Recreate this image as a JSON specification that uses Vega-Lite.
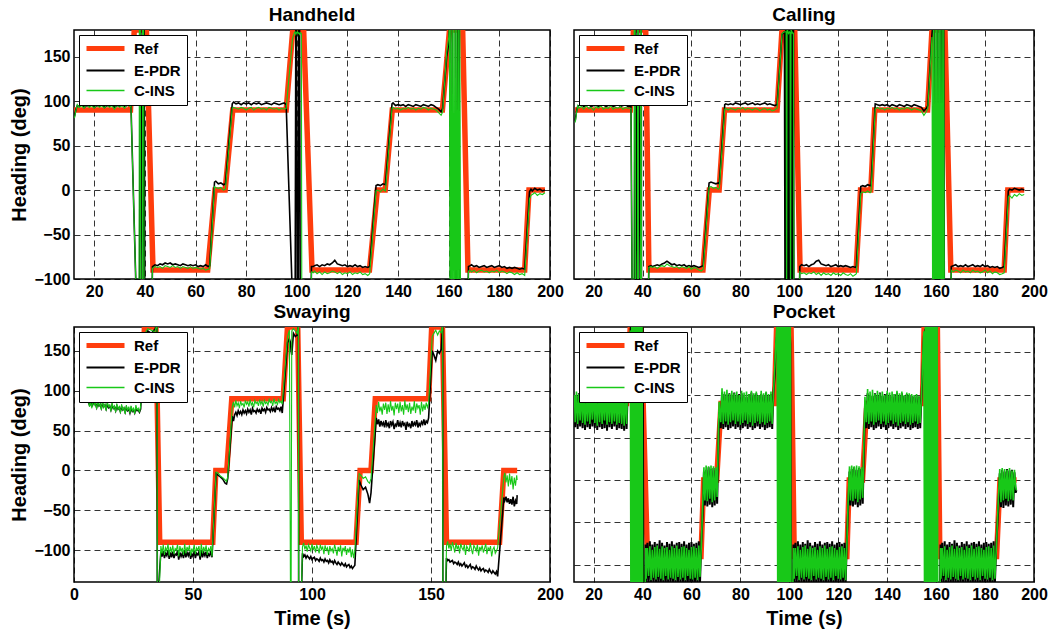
{
"$schema": "https://vega.github.io/schema/vega-lite/v6.json",
"background": "white",
"padding": {"left": 9, "top": 5, "right": 5, "bottom": 5},
"datasets": {
"hR": [{"t":12,"v":90},{"t":34.3,"v":90},{"t":35.8,"v":180},{"t":40.6,"v":180},{"t":43.2,"v":-90},{"t":64.8,"v":-90},{"t":67.7,"v":0},{"t":71.7,"v":0},{"t":74.7,"v":90},{"t":95.8,"v":90},{"t":98.4,"v":180},{"t":102.7,"v":180},{"t":106,"v":-90},{"t":128.7,"v":-90},{"t":131.8,"v":0},{"t":134.9,"v":0},{"t":137.7,"v":90},{"t":157.5,"v":90},{"t":160.3,"v":180},{"t":165.5,"v":180},{"t":167.6,"v":-90},{"t":190,"v":-90},{"t":191.7,"v":0},{"t":198,"v":0}],
"hD": [{"t":12.2,"e":83,"c":81},{"t":12.7,"e":90,"c":89},{"t":13.3,"e":95,"c":96},{"t":14,"e":94,"c":93},{"t":15,"e":96,"c":95},{"t":16,"e":93,"c":92},{"t":17,"e":95,"c":97},{"t":18,"e":94,"c":93},{"t":19,"e":96,"c":95},{"t":20,"e":93,"c":92},{"t":21,"e":95,"c":96},{"t":22,"e":94,"c":93},{"t":23,"e":96,"c":95},{"t":24,"e":93,"c":92},{"t":25,"e":95,"c":96},{"t":26,"e":94,"c":93},{"t":27,"e":96,"c":95},{"t":28,"e":93,"c":91},{"t":29,"e":95,"c":96},{"t":30,"e":94,"c":93},{"t":31,"e":96,"c":95},{"t":32,"e":94,"c":92},{"t":33,"e":95,"c":97},{"t":34,"e":96,"c":94},{"t":34.5,"e":95,"c":94},{"t":37.2,"e":-185,"c":-185},{"t":37.7,"e":-185,"c":-185},{"t":37.8,"e":-185,"c":185},{"t":38.2,"e":185,"c":185},{"t":38.4,"e":185,"c":-185},{"t":39.0,"e":-185,"c":-185},{"t":39.1,"e":-185,"c":185},{"t":39.5,"e":185,"c":185},{"t":39.7,"e":185,"c":-185},{"t":40.0,"e":-185,"c":-185},{"t":42.4,"e":-185,"c":-185},{"t":43.0,"e":-86,"c":-88},{"t":44,"e":-84,"c":-86},{"t":45,"e":-85,"c":-87},{"t":46,"e":-83,"c":-86},{"t":47,"e":-84,"c":-88},{"t":48,"e":-82,"c":-85},{"t":49,"e":-83,"c":-86},{"t":50,"e":-82,"c":-87},{"t":51,"e":-84,"c":-85},{"t":52,"e":-83,"c":-87},{"t":53,"e":-84,"c":-86},{"t":54,"e":-85,"c":-88},{"t":55,"e":-83,"c":-86},{"t":56,"e":-84,"c":-87},{"t":57,"e":-85,"c":-88},{"t":58,"e":-84,"c":-86},{"t":59,"e":-85,"c":-88},{"t":60,"e":-84,"c":-87},{"t":61,"e":-86,"c":-88},{"t":62,"e":-85,"c":-89},{"t":63,"e":-86,"c":-88},{"t":64,"e":-84,"c":-90},{"t":65,"e":-86,"c":-89},{"t":65.6,"e":-85,"c":-88},{"t":67.5,"e":9,"c":4},{"t":68,"e":10,"c":3},{"t":69,"e":7,"c":2},{"t":70,"e":8,"c":3},{"t":71,"e":6,"c":0},{"t":71.8,"e":7,"c":1},{"t":74.5,"e":97,"c":92},{"t":75,"e":99,"c":93},{"t":76,"e":97,"c":92},{"t":77,"e":98,"c":91},{"t":78,"e":96,"c":93},{"t":79,"e":98,"c":92},{"t":80,"e":97,"c":90},{"t":81,"e":98,"c":92},{"t":82,"e":96,"c":93},{"t":83,"e":98,"c":90},{"t":84,"e":97,"c":92},{"t":85,"e":98,"c":93},{"t":86,"e":96,"c":91},{"t":87,"e":97,"c":92},{"t":88,"e":98,"c":90},{"t":89,"e":97,"c":93},{"t":90,"e":96,"c":92},{"t":91,"e":98,"c":91},{"t":92,"e":97,"c":92},{"t":93,"e":96,"c":90},{"t":94,"e":97,"c":92},{"t":95,"e":98,"c":91},{"t":95.8,"e":96,"c":92},{"t":98.3,"e":-124,"c":170},{"t":99.0,"e":-185,"c":177},{"t":99.3,"e":-185,"c":178},{"t":99.6,"e":185,"c":175},{"t":99.9,"e":185,"c":177},{"t":100.2,"e":-185,"c":178},{"t":100.5,"e":-185,"c":176},{"t":100.8,"e":185,"c":177},{"t":101.1,"e":185,"c":175},{"t":101.4,"e":-185,"c":177},{"t":101.8,"e":-185,"c":176},{"t":102.0,"e":-185,"c":-185},{"t":105.2,"e":-185,"c":-185},{"t":105.8,"e":-86,"c":-92},{"t":106.5,"e":-86,"c":-93},{"t":107,"e":-85,"c":-91},{"t":108,"e":-84,"c":-94},{"t":109,"e":-86,"c":-92},{"t":110,"e":-84,"c":-95},{"t":111,"e":-85,"c":-92},{"t":112,"e":-83,"c":-94},{"t":113,"e":-84,"c":-93},{"t":114,"e":-82,"c":-91},{"t":115,"e":-79,"c":-92},{"t":116,"e":-83,"c":-94},{"t":117,"e":-84,"c":-92},{"t":118,"e":-85,"c":-95},{"t":119,"e":-84,"c":-93},{"t":120,"e":-86,"c":-94},{"t":121,"e":-85,"c":-92},{"t":122,"e":-86,"c":-95},{"t":123,"e":-84,"c":-93},{"t":124,"e":-86,"c":-94},{"t":125,"e":-85,"c":-92},{"t":126,"e":-87,"c":-95},{"t":127,"e":-86,"c":-94},{"t":128,"e":-87,"c":-96},{"t":128.8,"e":-86,"c":-94},{"t":131.3,"e":5,"c":-1},{"t":132,"e":6,"c":0},{"t":133,"e":5,"c":-2},{"t":134,"e":7,"c":1},{"t":135,"e":6,"c":-1},{"t":137.6,"e":97,"c":92},{"t":138,"e":98,"c":93},{"t":139,"e":95,"c":91},{"t":140,"e":96,"c":92},{"t":141,"e":95,"c":90},{"t":142,"e":96,"c":92},{"t":143,"e":94,"c":91},{"t":144,"e":96,"c":93},{"t":145,"e":95,"c":91},{"t":146,"e":94,"c":92},{"t":147,"e":96,"c":90},{"t":148,"e":95,"c":92},{"t":149,"e":94,"c":91},{"t":150,"e":96,"c":93},{"t":151,"e":95,"c":92},{"t":152,"e":94,"c":90},{"t":153,"e":96,"c":92},{"t":154,"e":95,"c":91},{"t":155,"e":93,"c":90},{"t":156,"e":91,"c":87},{"t":157,"e":88,"c":84},{"t":157.6,"e":92,"c":88},{"t":159.2,"e":150,"c":155},{"t":160,"e":165,"c":172},{"t":160.3,"e":185,"c":185},{"t":160.5,"e":185,"c":-185},{"t":160.8,"e":-185,"c":185},{"t":161.1,"e":-185,"c":-185},{"t":161.4,"e":185,"c":185},{"t":161.7,"e":185,"c":-185},{"t":162.0,"e":185,"c":185},{"t":162.3,"e":185,"c":-185},{"t":162.6,"e":185,"c":185},{"t":162.9,"e":-185,"c":-185},{"t":163.2,"e":-185,"c":185},{"t":163.5,"e":185,"c":-185},{"t":163.8,"e":185,"c":185},{"t":164.1,"e":185,"c":-185},{"t":164.4,"e":-185,"c":185},{"t":164.7,"e":-185,"c":-185},{"t":167.2,"e":-185,"c":-185},{"t":167.8,"e":-86,"c":-91},{"t":168.5,"e":-85,"c":-90},{"t":169,"e":-84,"c":-92},{"t":170,"e":-86,"c":-90},{"t":171,"e":-85,"c":-93},{"t":172,"e":-87,"c":-91},{"t":173,"e":-86,"c":-90},{"t":174,"e":-85,"c":-92},{"t":175,"e":-87,"c":-91},{"t":176,"e":-86,"c":-93},{"t":177,"e":-85,"c":-91},{"t":178,"e":-87,"c":-92},{"t":179,"e":-86,"c":-90},{"t":180,"e":-85,"c":-93},{"t":181,"e":-87,"c":-91},{"t":182,"e":-86,"c":-92},{"t":183,"e":-88,"c":-94},{"t":184,"e":-87,"c":-92},{"t":185,"e":-88,"c":-93},{"t":186,"e":-87,"c":-95},{"t":187,"e":-88,"c":-93},{"t":188,"e":-89,"c":-95},{"t":189,"e":-88,"c":-94},{"t":190,"e":-89,"c":-96},{"t":191.9,"e":-2,"c":-10},{"t":192.5,"e":1,"c":-6},{"t":193,"e":-1,"c":-5},{"t":194,"e":2,"c":-3},{"t":195,"e":0,"c":-6},{"t":196,"e":1,"c":-4},{"t":197,"e":-1,"c":-5},{"t":198,"e":0,"c":-3}],
"cR": [{"t":12.4,"v":90},{"t":35,"v":90},{"t":36.3,"v":180},{"t":41.3,"v":180},{"t":42.6,"v":-90},{"t":64.7,"v":-90},{"t":67.3,"v":0},{"t":71.3,"v":0},{"t":73.5,"v":90},{"t":95,"v":90},{"t":97,"v":180},{"t":102.2,"v":180},{"t":104.4,"v":-90},{"t":127.3,"v":-90},{"t":129.1,"v":0},{"t":133.3,"v":0},{"t":134.9,"v":90},{"t":156.5,"v":90},{"t":158.3,"v":180},{"t":163.6,"v":180},{"t":166,"v":-90},{"t":187.8,"v":-90},{"t":189.3,"v":0},{"t":196,"v":0}],
"cD": [{"t":12.5,"e":78,"c":76},{"t":13,"e":88,"c":86},{"t":13.5,"e":94,"c":95},{"t":14,"e":95,"c":92},{"t":15,"e":96,"c":94},{"t":16,"e":94,"c":91},{"t":17,"e":95,"c":95},{"t":18,"e":96,"c":92},{"t":19,"e":94,"c":93},{"t":20,"e":95,"c":90},{"t":21,"e":96,"c":94},{"t":22,"e":94,"c":92},{"t":23,"e":95,"c":95},{"t":24,"e":96,"c":91},{"t":25,"e":94,"c":93},{"t":26,"e":95,"c":92},{"t":27,"e":96,"c":95},{"t":28,"e":94,"c":91},{"t":29,"e":95,"c":93},{"t":30,"e":96,"c":92},{"t":31,"e":94,"c":94},{"t":32,"e":95,"c":91},{"t":33,"e":96,"c":93},{"t":34,"e":94,"c":92},{"t":35.3,"e":94,"c":92},{"t":35.9,"e":-185,"c":-185},{"t":36.5,"e":-185,"c":-185},{"t":36.6,"e":-185,"c":185},{"t":37.0,"e":185,"c":185},{"t":37.2,"e":185,"c":-185},{"t":37.9,"e":-185,"c":-185},{"t":38.0,"e":185,"c":185},{"t":38.3,"e":185,"c":185},{"t":38.4,"e":185,"c":-185},{"t":39.2,"e":-185,"c":-185},{"t":39.3,"e":-185,"c":185},{"t":39.5,"e":185,"c":185},{"t":39.6,"e":-185,"c":-185},{"t":41.9,"e":-185,"c":-185},{"t":42.6,"e":-86,"c":-87},{"t":43.5,"e":-85,"c":-86},{"t":44,"e":-86,"c":-87},{"t":45,"e":-85,"c":-86},{"t":46,"e":-84,"c":-88},{"t":47,"e":-85,"c":-86},{"t":48,"e":-83,"c":-85},{"t":49,"e":-82,"c":-86},{"t":50,"e":-80,"c":-83},{"t":51,"e":-82,"c":-85},{"t":52,"e":-84,"c":-86},{"t":53,"e":-83,"c":-87},{"t":54,"e":-85,"c":-86},{"t":55,"e":-84,"c":-88},{"t":56,"e":-85,"c":-86},{"t":57,"e":-84,"c":-87},{"t":58,"e":-86,"c":-88},{"t":59,"e":-85,"c":-86},{"t":60,"e":-86,"c":-89},{"t":61,"e":-85,"c":-87},{"t":62,"e":-86,"c":-88},{"t":63,"e":-87,"c":-90},{"t":64,"e":-86,"c":-91},{"t":64.8,"e":-85,"c":-89},{"t":67.2,"e":8,"c":3},{"t":68,"e":9,"c":4},{"t":69,"e":8,"c":2},{"t":70,"e":7,"c":3},{"t":71,"e":8,"c":1},{"t":71.4,"e":7,"c":2},{"t":73.6,"e":96,"c":91},{"t":74,"e":97,"c":92},{"t":75,"e":96,"c":90},{"t":76,"e":97,"c":92},{"t":77,"e":96,"c":91},{"t":78,"e":98,"c":90},{"t":79,"e":97,"c":92},{"t":80,"e":96,"c":91},{"t":81,"e":97,"c":93},{"t":82,"e":98,"c":90},{"t":83,"e":96,"c":92},{"t":84,"e":97,"c":91},{"t":85,"e":98,"c":90},{"t":86,"e":96,"c":92},{"t":87,"e":97,"c":91},{"t":88,"e":96,"c":89},{"t":89,"e":97,"c":91},{"t":90,"e":98,"c":92},{"t":91,"e":96,"c":90},{"t":92,"e":97,"c":91},{"t":93,"e":96,"c":89},{"t":94,"e":95,"c":90},{"t":95,"e":96,"c":92},{"t":97.0,"e":175,"c":176},{"t":98.0,"e":178,"c":178},{"t":98.3,"e":-185,"c":178},{"t":98.5,"e":185,"c":178},{"t":98.7,"e":-185,"c":178},{"t":98.9,"e":185,"c":-185},{"t":99.1,"e":-185,"c":185},{"t":99.3,"e":185,"c":177},{"t":99.5,"e":-185,"c":178},{"t":99.7,"e":185,"c":176},{"t":99.9,"e":-185,"c":177},{"t":100.1,"e":185,"c":178},{"t":100.3,"e":-185,"c":177},{"t":100.5,"e":185,"c":-185},{"t":100.7,"e":-185,"c":185},{"t":100.9,"e":185,"c":176},{"t":101.1,"e":-185,"c":178},{"t":101.3,"e":185,"c":177},{"t":101.5,"e":-185,"c":176},{"t":101.7,"e":185,"c":177},{"t":101.9,"e":-185,"c":-185},{"t":103.7,"e":-185,"c":-185},{"t":104.3,"e":-86,"c":-92},{"t":105,"e":-84,"c":-94},{"t":106,"e":-85,"c":-93},{"t":107,"e":-84,"c":-95},{"t":108,"e":-86,"c":-93},{"t":109,"e":-84,"c":-94},{"t":110,"e":-83,"c":-92},{"t":111,"e":-80,"c":-95},{"t":112,"e":-79,"c":-93},{"t":113,"e":-83,"c":-96},{"t":114,"e":-84,"c":-93},{"t":115,"e":-85,"c":-95},{"t":116,"e":-84,"c":-94},{"t":117,"e":-86,"c":-96},{"t":118,"e":-85,"c":-93},{"t":119,"e":-84,"c":-95},{"t":120,"e":-86,"c":-94},{"t":121,"e":-85,"c":-96},{"t":122,"e":-86,"c":-93},{"t":123,"e":-85,"c":-95},{"t":124,"e":-86,"c":-96},{"t":125,"e":-87,"c":-94},{"t":126,"e":-86,"c":-97},{"t":127,"e":-87,"c":-95},{"t":127.4,"e":-86,"c":-94},{"t":129.2,"e":4,"c":-4},{"t":130,"e":5,"c":-2},{"t":131,"e":4,"c":-3},{"t":132,"e":6,"c":-1},{"t":133,"e":5,"c":-3},{"t":133.4,"e":5,"c":-2},{"t":135.1,"e":97,"c":91},{"t":136,"e":96,"c":93},{"t":137,"e":95,"c":91},{"t":138,"e":96,"c":92},{"t":139,"e":95,"c":90},{"t":140,"e":96,"c":92},{"t":141,"e":94,"c":91},{"t":142,"e":96,"c":93},{"t":143,"e":95,"c":91},{"t":144,"e":94,"c":92},{"t":145,"e":96,"c":90},{"t":146,"e":95,"c":92},{"t":147,"e":94,"c":91},{"t":148,"e":96,"c":93},{"t":149,"e":95,"c":92},{"t":150,"e":94,"c":90},{"t":151,"e":96,"c":92},{"t":152,"e":95,"c":91},{"t":153,"e":94,"c":90},{"t":154,"e":93,"c":89},{"t":155,"e":89,"c":84},{"t":156,"e":92,"c":88},{"t":156.6,"e":95,"c":92},{"t":158.3,"e":175,"c":172},{"t":158.6,"e":185,"c":-185},{"t":158.9,"e":185,"c":185},{"t":159.2,"e":185,"c":-185},{"t":159.5,"e":-185,"c":185},{"t":159.8,"e":-185,"c":-185},{"t":160.1,"e":185,"c":185},{"t":160.4,"e":185,"c":-185},{"t":160.7,"e":185,"c":185},{"t":161.0,"e":-185,"c":-185},{"t":161.3,"e":-185,"c":185},{"t":161.6,"e":185,"c":-185},{"t":161.9,"e":185,"c":185},{"t":162.2,"e":-185,"c":-185},{"t":162.5,"e":185,"c":185},{"t":162.8,"e":-185,"c":-185},{"t":163.1,"e":185,"c":185},{"t":163.4,"e":-185,"c":-185},{"t":165.6,"e":-185,"c":-185},{"t":166.2,"e":-86,"c":-90},{"t":167,"e":-85,"c":-92},{"t":168,"e":-84,"c":-90},{"t":169,"e":-86,"c":-91},{"t":170,"e":-85,"c":-93},{"t":171,"e":-86,"c":-90},{"t":172,"e":-84,"c":-92},{"t":173,"e":-86,"c":-91},{"t":174,"e":-85,"c":-93},{"t":175,"e":-84,"c":-90},{"t":176,"e":-86,"c":-92},{"t":177,"e":-85,"c":-91},{"t":178,"e":-86,"c":-93},{"t":179,"e":-84,"c":-92},{"t":180,"e":-86,"c":-90},{"t":181,"e":-85,"c":-93},{"t":182,"e":-87,"c":-91},{"t":183,"e":-86,"c":-94},{"t":184,"e":-87,"c":-92},{"t":185,"e":-86,"c":-93},{"t":186,"e":-88,"c":-95},{"t":187,"e":-87,"c":-94},{"t":187.8,"e":-86,"c":-93},{"t":189.5,"e":-1,"c":-8},{"t":190,"e":1,"c":-6},{"t":191,"e":0,"c":-9},{"t":192,"e":2,"c":-5},{"t":193,"e":1,"c":-7},{"t":194,"e":0,"c":-4},{"t":195,"e":1,"c":-6},{"t":196,"e":0,"c":-5}],
"sR": [{"t":5.8,"v":90},{"t":28.5,"v":90},{"t":29.6,"v":180},{"t":34.4,"v":180},{"t":36,"v":-90},{"t":58.3,"v":-90},{"t":59.6,"v":0},{"t":64.2,"v":0},{"t":66.3,"v":90},{"t":87.9,"v":90},{"t":89.7,"v":180},{"t":94,"v":180},{"t":95.5,"v":-90},{"t":118.5,"v":-90},{"t":120.2,"v":0},{"t":124.8,"v":0},{"t":126.6,"v":90},{"t":149,"v":90},{"t":150.3,"v":180},{"t":154.8,"v":180},{"t":156.5,"v":-90},{"t":178.8,"v":-90},{"t":180.6,"v":0},{"t":186.2,"v":0}],
"sD": [{"t":6,"e":86,"c":88},{"t":6.5,"e":82,"c":80},{"t":7,"e":85,"c":86},{"t":7.5,"e":80,"c":78},{"t":8,"e":87,"c":90},{"t":8.5,"e":83,"c":82},{"t":9,"e":84,"c":85},{"t":9.5,"e":79,"c":77},{"t":10,"e":85,"c":87},{"t":10.5,"e":81,"c":81},{"t":11,"e":83,"c":84},{"t":11.5,"e":78,"c":76},{"t":12,"e":84,"c":88},{"t":12.5,"e":80,"c":79},{"t":13,"e":82,"c":83},{"t":13.5,"e":77,"c":75},{"t":14,"e":83,"c":86},{"t":14.5,"e":79,"c":80},{"t":15,"e":81,"c":82},{"t":15.5,"e":76,"c":74},{"t":16,"e":82,"c":85},{"t":16.5,"e":78,"c":78},{"t":17,"e":80,"c":81},{"t":17.5,"e":75,"c":73},{"t":18,"e":81,"c":84},{"t":18.5,"e":77,"c":77},{"t":19,"e":79,"c":80},{"t":19.5,"e":74,"c":72},{"t":20,"e":80,"c":83},{"t":20.5,"e":76,"c":76},{"t":21,"e":78,"c":79},{"t":21.5,"e":73,"c":71},{"t":22,"e":79,"c":82},{"t":22.5,"e":75,"c":75},{"t":23,"e":77,"c":80},{"t":23.5,"e":72,"c":72},{"t":24,"e":78,"c":81},{"t":24.5,"e":74,"c":74},{"t":25,"e":76,"c":79},{"t":25.5,"e":72,"c":71},{"t":26,"e":77,"c":82},{"t":26.5,"e":75,"c":76},{"t":27,"e":76,"c":78},{"t":27.5,"e":73,"c":73},{"t":28,"e":77,"c":80},{"t":29.6,"e":168,"c":171},{"t":31,"e":175,"c":178},{"t":32.5,"e":172,"c":176},{"t":34,"e":177,"c":174},{"t":34.9,"e":185,"c":185},{"t":35.0,"e":-185,"c":-185},{"t":35.9,"e":-130,"c":-145},{"t":36.5,"e":-102,"c":-95},{"t":37,"e":-108,"c":-104},{"t":37.5,"e":-101,"c":-93},{"t":38,"e":-110,"c":-106},{"t":38.5,"e":-104,"c":-97},{"t":39,"e":-107,"c":-101},{"t":39.5,"e":-100,"c":-92},{"t":40,"e":-111,"c":-107},{"t":40.5,"e":-103,"c":-96},{"t":41,"e":-109,"c":-103},{"t":41.5,"e":-102,"c":-94},{"t":42,"e":-110,"c":-105},{"t":42.5,"e":-105,"c":-98},{"t":43,"e":-106,"c":-100},{"t":43.5,"e":-101,"c":-93},{"t":44,"e":-112,"c":-108},{"t":44.5,"e":-103,"c":-95},{"t":45,"e":-108,"c":-102},{"t":45.5,"e":-104,"c":-97},{"t":46,"e":-110,"c":-106},{"t":46.5,"e":-100,"c":-92},{"t":47,"e":-109,"c":-104},{"t":47.5,"e":-103,"c":-96},{"t":48,"e":-107,"c":-101},{"t":48.5,"e":-102,"c":-94},{"t":49,"e":-111,"c":-107},{"t":49.5,"e":-105,"c":-98},{"t":50,"e":-108,"c":-103},{"t":50.5,"e":-101,"c":-93},{"t":51,"e":-110,"c":-105},{"t":51.5,"e":-104,"c":-97},{"t":52,"e":-106,"c":-100},{"t":52.5,"e":-102,"c":-95},{"t":53,"e":-112,"c":-108},{"t":53.5,"e":-100,"c":-92},{"t":54,"e":-109,"c":-104},{"t":54.5,"e":-103,"c":-96},{"t":55,"e":-107,"c":-102},{"t":55.5,"e":-102,"c":-94},{"t":56,"e":-110,"c":-106},{"t":56.5,"e":-105,"c":-98},{"t":57,"e":-107,"c":-101},{"t":57.5,"e":-101,"c":-95},{"t":58,"e":-109,"c":-108},{"t":59.7,"e":-4,"c":-2},{"t":60.5,"e":-6,"c":-3},{"t":61.5,"e":-8,"c":-7},{"t":62.5,"e":-11,"c":-9},{"t":63.5,"e":-16,"c":-12},{"t":64.1,"e":-17,"c":-14},{"t":64.6,"e":-10,"c":-8},{"t":66.5,"e":68,"c":80},{"t":67,"e":62,"c":86},{"t":67.5,"e":70,"c":79},{"t":68,"e":73,"c":88},{"t":68.5,"e":69,"c":81},{"t":69,"e":75,"c":85},{"t":69.5,"e":71,"c":78},{"t":70,"e":74,"c":87},{"t":70.5,"e":70,"c":82},{"t":71,"e":76,"c":84},{"t":71.5,"e":72,"c":79},{"t":72,"e":75,"c":88},{"t":72.5,"e":71,"c":83},{"t":73,"e":77,"c":86},{"t":73.5,"e":73,"c":80},{"t":74,"e":76,"c":89},{"t":74.5,"e":70,"c":82},{"t":75,"e":78,"c":85},{"t":75.5,"e":74,"c":79},{"t":76,"e":75,"c":88},{"t":76.5,"e":72,"c":84},{"t":77,"e":77,"c":86},{"t":77.5,"e":74,"c":81},{"t":78,"e":76,"c":89},{"t":78.5,"e":71,"c":83},{"t":79,"e":78,"c":87},{"t":79.5,"e":75,"c":80},{"t":80,"e":77,"c":88},{"t":80.5,"e":73,"c":84},{"t":81,"e":79,"c":86},{"t":81.5,"e":76,"c":82},{"t":82,"e":77,"c":89},{"t":82.5,"e":74,"c":85},{"t":83,"e":79,"c":87},{"t":83.5,"e":75,"c":81},{"t":84,"e":78,"c":90},{"t":84.5,"e":73,"c":84},{"t":85,"e":80,"c":86},{"t":85.5,"e":77,"c":83},{"t":86,"e":78,"c":89},{"t":86.5,"e":75,"c":85},{"t":87,"e":80,"c":87},{"t":87.5,"e":72,"c":83},{"t":89.7,"e":160,"c":168},{"t":90.5,"e":165,"c":176},{"t":91.0,"e":160,"c":-185},{"t":91.2,"e":150,"c":-185},{"t":91.5,"e":145,"c":175},{"t":92.2,"e":172,"c":178},{"t":93,"e":168,"c":175},{"t":93.8,"e":170,"c":172},{"t":94.3,"e":185,"c":185},{"t":94.4,"e":-185,"c":-185},{"t":95.3,"e":-185,"c":-185},{"t":96,"e":-104,"c":-96},{"t":96.5,"e":-108,"c":-91},{"t":97,"e":-106,"c":-99},{"t":97.5,"e":-110,"c":-94},{"t":98,"e":-107,"c":-102},{"t":98.5,"e":-109,"c":-93},{"t":99,"e":-111,"c":-97},{"t":99.5,"e":-108,"c":-101},{"t":100,"e":-112,"c":-92},{"t":100.5,"e":-110,"c":-100},{"t":101,"e":-109,"c":-95},{"t":101.5,"e":-113,"c":-103},{"t":102,"e":-111,"c":-94},{"t":102.5,"e":-112,"c":-98},{"t":103,"e":-114,"c":-104},{"t":103.5,"e":-110,"c":-93},{"t":104,"e":-113,"c":-99},{"t":104.5,"e":-112,"c":-96},{"t":105,"e":-115,"c":-105},{"t":105.5,"e":-111,"c":-94},{"t":106,"e":-114,"c":-100},{"t":106.5,"e":-113,"c":-97},{"t":107,"e":-116,"c":-106},{"t":107.5,"e":-112,"c":-95},{"t":108,"e":-115,"c":-101},{"t":108.5,"e":-114,"c":-98},{"t":109,"e":-117,"c":-104},{"t":109.5,"e":-113,"c":-93},{"t":110,"e":-116,"c":-99},{"t":110.5,"e":-118,"c":-107},{"t":111,"e":-115,"c":-96},{"t":111.5,"e":-117,"c":-102},{"t":112,"e":-119,"c":-94},{"t":112.5,"e":-116,"c":-108},{"t":113,"e":-118,"c":-97},{"t":113.5,"e":-120,"c":-101},{"t":114,"e":-117,"c":-95},{"t":114.5,"e":-121,"c":-106},{"t":115,"e":-119,"c":-98},{"t":115.5,"e":-118,"c":-103},{"t":116,"e":-122,"c":-96},{"t":116.5,"e":-120,"c":-109},{"t":117,"e":-123,"c":-99},{"t":117.5,"e":-121,"c":-110},{"t":118,"e":-119,"c":-101},{"t":119.8,"e":-12,"c":-4},{"t":120.5,"e":-18,"c":-6},{"t":121.5,"e":-24,"c":-10},{"t":122.5,"e":-21,"c":-8},{"t":123.5,"e":-30,"c":-14},{"t":124.2,"e":-41,"c":-16},{"t":124.8,"e":-28,"c":-10},{"t":127,"e":66,"c":82},{"t":127.5,"e":58,"c":72},{"t":128,"e":64,"c":86},{"t":128.5,"e":55,"c":74},{"t":129,"e":62,"c":80},{"t":129.5,"e":57,"c":70},{"t":130,"e":60,"c":84},{"t":130.5,"e":54,"c":76},{"t":131,"e":63,"c":85},{"t":131.5,"e":56,"c":71},{"t":132,"e":59,"c":83},{"t":132.5,"e":53,"c":73},{"t":133,"e":62,"c":87},{"t":133.5,"e":57,"c":75},{"t":134,"e":61,"c":81},{"t":134.5,"e":52,"c":69},{"t":135,"e":58,"c":85},{"t":135.5,"e":56,"c":77},{"t":136,"e":63,"c":84},{"t":136.5,"e":55,"c":72},{"t":137,"e":60,"c":86},{"t":137.5,"e":54,"c":74},{"t":138,"e":62,"c":82},{"t":138.5,"e":57,"c":70},{"t":139,"e":59,"c":88},{"t":139.5,"e":51,"c":76},{"t":140,"e":61,"c":83},{"t":140.5,"e":56,"c":73},{"t":141,"e":58,"c":85},{"t":141.5,"e":53,"c":71},{"t":142,"e":62,"c":80},{"t":142.5,"e":55,"c":75},{"t":143,"e":60,"c":87},{"t":143.5,"e":57,"c":72},{"t":144,"e":63,"c":84},{"t":144.5,"e":54,"c":78},{"t":145,"e":59,"c":82},{"t":145.5,"e":56,"c":70},{"t":146,"e":61,"c":86},{"t":146.5,"e":58,"c":74},{"t":147,"e":64,"c":83},{"t":147.5,"e":57,"c":76},{"t":148,"e":62,"c":85},{"t":148.5,"e":60,"c":79},{"t":149,"e":66,"c":84},{"t":150.5,"e":150,"c":168},{"t":151.2,"e":145,"c":172},{"t":152,"e":138,"c":176},{"t":152.8,"e":150,"c":170},{"t":153.5,"e":147,"c":175},{"t":154.3,"e":152,"c":173},{"t":154.9,"e":185,"c":185},{"t":155.0,"e":-185,"c":-185},{"t":156,"e":-185,"c":-185},{"t":156.5,"e":-110,"c":-95},{"t":157,"e":-113,"c":-89},{"t":157.5,"e":-112,"c":-98},{"t":158,"e":-115,"c":-92},{"t":158.5,"e":-114,"c":-101},{"t":159,"e":-113,"c":-90},{"t":159.5,"e":-117,"c":-96},{"t":160,"e":-115,"c":-103},{"t":160.5,"e":-116,"c":-91},{"t":161,"e":-118,"c":-99},{"t":161.5,"e":-115,"c":-94},{"t":162,"e":-119,"c":-104},{"t":162.5,"e":-117,"c":-92},{"t":163,"e":-120,"c":-97},{"t":163.5,"e":-118,"c":-100},{"t":164,"e":-116,"c":-93},{"t":164.5,"e":-121,"c":-106},{"t":165,"e":-119,"c":-95},{"t":165.5,"e":-122,"c":-98},{"t":166,"e":-120,"c":-102},{"t":166.5,"e":-118,"c":-91},{"t":167,"e":-123,"c":-99},{"t":167.5,"e":-121,"c":-105},{"t":168,"e":-122,"c":-94},{"t":168.5,"e":-124,"c":-97},{"t":169,"e":-120,"c":-101},{"t":169.5,"e":-123,"c":-93},{"t":170,"e":-125,"c":-107},{"t":170.5,"e":-122,"c":-96},{"t":171,"e":-126,"c":-100},{"t":171.5,"e":-124,"c":-94},{"t":172,"e":-123,"c":-103},{"t":172.5,"e":-127,"c":-98},{"t":173,"e":-125,"c":-92},{"t":173.5,"e":-126,"c":-105},{"t":174,"e":-128,"c":-97},{"t":174.5,"e":-124,"c":-100},{"t":175,"e":-127,"c":-95},{"t":175.5,"e":-129,"c":-108},{"t":176,"e":-126,"c":-99},{"t":176.5,"e":-128,"c":-96},{"t":177,"e":-130,"c":-104},{"t":177.5,"e":-127,"c":-101},{"t":178,"e":-133,"c":-97},{"t":180.6,"e":-34,"c":-8},{"t":181,"e":-38,"c":-3},{"t":181.5,"e":-33,"c":-15},{"t":182,"e":-40,"c":-6},{"t":182.5,"e":-35,"c":-20},{"t":183,"e":-42,"c":-4},{"t":183.5,"e":-36,"c":-18},{"t":184,"e":-43,"c":-7},{"t":184.5,"e":-33,"c":-24},{"t":185,"e":-45,"c":-9},{"t":185.5,"e":-38,"c":-19},{"t":186,"e":-42,"c":-6},{"t":186.2,"e":-31,"c":-12}],
"pR": [{"t":12,"v":90},{"t":33.5,"v":90},{"t":35,"v":180},{"t":39.4,"v":180},{"t":42,"v":-90},{"t":63.9,"v":-90},{"t":65,"v":0},{"t":70.3,"v":0},{"t":72.1,"v":90},{"t":93.9,"v":90},{"t":94.8,"v":180},{"t":100.7,"v":180},{"t":102,"v":-90},{"t":123.5,"v":-90},{"t":124.5,"v":0},{"t":129.9,"v":0},{"t":131.7,"v":90},{"t":154.4,"v":90},{"t":155.1,"v":180},{"t":160.5,"v":180},{"t":161.5,"v":-90},{"t":184.7,"v":-90},{"t":186.1,"v":0},{"t":192.9,"v":0}],
"pD": [{"t":12.2,"e":95,"c":100},{"t":12.5,"e":62,"c":68},{"t":13,"e":100,"c":104},{"t":13.5,"e":60,"c":66},{"t":14,"e":102,"c":101},{"t":14.5,"e":63,"c":70},{"t":15,"e":99,"c":105},{"t":15.5,"e":61,"c":67},{"t":16,"e":101,"c":103},{"t":16.5,"e":59,"c":65},{"t":17,"e":103,"c":100},{"t":17.5,"e":62,"c":69},{"t":18,"e":98,"c":104},{"t":18.5,"e":60,"c":66},{"t":19,"e":101,"c":102},{"t":19.5,"e":63,"c":71},{"t":20,"e":100,"c":105},{"t":20.5,"e":61,"c":67},{"t":21,"e":102,"c":101},{"t":21.5,"e":59,"c":64},{"t":22,"e":99,"c":103},{"t":22.5,"e":62,"c":68},{"t":23,"e":101,"c":105},{"t":23.5,"e":60,"c":66},{"t":24,"e":103,"c":100},{"t":24.5,"e":61,"c":70},{"t":25,"e":100,"c":104},{"t":25.5,"e":58,"c":65},{"t":26,"e":102,"c":102},{"t":26.5,"e":62,"c":68},{"t":27,"e":99,"c":105},{"t":27.5,"e":60,"c":66},{"t":28,"e":101,"c":101},{"t":28.5,"e":63,"c":69},{"t":29,"e":100,"c":104},{"t":29.5,"e":59,"c":65},{"t":30,"e":102,"c":102},{"t":30.5,"e":61,"c":67},{"t":31,"e":99,"c":105},{"t":31.5,"e":60,"c":66},{"t":32,"e":101,"c":100},{"t":32.5,"e":58,"c":64},{"t":33,"e":100,"c":103},{"t":33.5,"e":60,"c":66},{"t":34.3,"e":140,"c":150},{"t":35.0,"e":170,"c":176},{"t":35.3,"e":185,"c":-185},{"t":35.6,"e":-185,"c":185},{"t":35.9,"e":185,"c":-185},{"t":36.2,"e":-185,"c":185},{"t":36.5,"e":185,"c":-185},{"t":36.8,"e":-185,"c":185},{"t":37.1,"e":185,"c":-185},{"t":37.4,"e":-185,"c":185},{"t":37.7,"e":185,"c":-185},{"t":38.0,"e":-185,"c":185},{"t":38.3,"e":185,"c":-185},{"t":38.6,"e":-185,"c":185},{"t":38.9,"e":185,"c":-185},{"t":39.2,"e":-185,"c":185},{"t":39.5,"e":185,"c":-185},{"t":39.8,"e":-185,"c":185},{"t":40.1,"e":185,"c":-185},{"t":40.4,"e":-185,"c":-185},{"t":40.9,"e":-185,"c":-185},{"t":41.3,"e":-76,"c":-80},{"t":41.5,"e":-122,"c":-116},{"t":42,"e":-74,"c":-80},{"t":42.5,"e":-124,"c":-113},{"t":43,"e":-72,"c":-78},{"t":43.5,"e":-121,"c":-118},{"t":44,"e":-76,"c":-82},{"t":44.5,"e":-123,"c":-115},{"t":45,"e":-73,"c":-79},{"t":45.5,"e":-122,"c":-117},{"t":46,"e":-75,"c":-77},{"t":46.5,"e":-124,"c":-114},{"t":47,"e":-71,"c":-81},{"t":47.5,"e":-121,"c":-116},{"t":48,"e":-74,"c":-78},{"t":48.5,"e":-123,"c":-118},{"t":49,"e":-77,"c":-80},{"t":49.5,"e":-122,"c":-113},{"t":50,"e":-73,"c":-79},{"t":50.5,"e":-124,"c":-117},{"t":51,"e":-75,"c":-82},{"t":51.5,"e":-121,"c":-115},{"t":52,"e":-72,"c":-78},{"t":52.5,"e":-123,"c":-116},{"t":53,"e":-76,"c":-80},{"t":53.5,"e":-122,"c":-118},{"t":54,"e":-74,"c":-77},{"t":54.5,"e":-124,"c":-114},{"t":55,"e":-73,"c":-81},{"t":55.5,"e":-121,"c":-117},{"t":56,"e":-75,"c":-79},{"t":56.5,"e":-123,"c":-115},{"t":57,"e":-72,"c":-78},{"t":57.5,"e":-122,"c":-118},{"t":58,"e":-76,"c":-80},{"t":58.5,"e":-124,"c":-113},{"t":59,"e":-74,"c":-82},{"t":59.5,"e":-121,"c":-116},{"t":60,"e":-73,"c":-79},{"t":60.5,"e":-123,"c":-117},{"t":61,"e":-75,"c":-78},{"t":61.5,"e":-122,"c":-115},{"t":62,"e":-74,"c":-80},{"t":62.5,"e":-124,"c":-118},{"t":63,"e":-72,"c":-77},{"t":63.5,"e":-121,"c":-114},{"t":64,"e":-75,"c":-79},{"t":64.6,"e":-40,"c":-30},{"t":65.1,"e":10,"c":15},{"t":65.5,"e":-30,"c":-24},{"t":66,"e":12,"c":17},{"t":66.5,"e":-31,"c":-25},{"t":67,"e":15,"c":16},{"t":67.5,"e":-29,"c":-22},{"t":68,"e":13,"c":17},{"t":68.5,"e":-32,"c":-26},{"t":69,"e":14,"c":16},{"t":69.5,"e":-30,"c":-24},{"t":70,"e":12,"c":15},{"t":70.5,"e":-28,"c":-20},{"t":71.3,"e":80,"c":92},{"t":72,"e":61,"c":68},{"t":72.5,"e":103,"c":108},{"t":73,"e":60,"c":66},{"t":73.5,"e":101,"c":104},{"t":74,"e":62,"c":69},{"t":74.5,"e":99,"c":106},{"t":75,"e":59,"c":65},{"t":75.5,"e":102,"c":101},{"t":76,"e":61,"c":68},{"t":76.5,"e":100,"c":105},{"t":77,"e":63,"c":70},{"t":77.5,"e":103,"c":102},{"t":78,"e":60,"c":66},{"t":78.5,"e":99,"c":104},{"t":79,"e":62,"c":69},{"t":79.5,"e":101,"c":100},{"t":80,"e":59,"c":65},{"t":80.5,"e":102,"c":105},{"t":81,"e":61,"c":67},{"t":81.5,"e":100,"c":103},{"t":82,"e":63,"c":70},{"t":82.5,"e":98,"c":104},{"t":83,"e":60,"c":66},{"t":83.5,"e":101,"c":101},{"t":84,"e":62,"c":68},{"t":84.5,"e":103,"c":105},{"t":85,"e":59,"c":64},{"t":85.5,"e":100,"c":102},{"t":86,"e":61,"c":67},{"t":86.5,"e":102,"c":104},{"t":87,"e":63,"c":69},{"t":87.5,"e":99,"c":100},{"t":88,"e":60,"c":66},{"t":88.5,"e":101,"c":105},{"t":89,"e":62,"c":68},{"t":89.5,"e":100,"c":102},{"t":90,"e":59,"c":65},{"t":90.5,"e":103,"c":104},{"t":91,"e":61,"c":67},{"t":91.5,"e":100,"c":101},{"t":92,"e":62,"c":69},{"t":92.5,"e":101,"c":104},{"t":93,"e":60,"c":66},{"t":93.5,"e":102,"c":100},{"t":94.1,"e":125,"c":135},{"t":94.6,"e":160,"c":168},{"t":95.0,"e":170,"c":185},{"t":95.3,"e":150,"c":-185},{"t":95.6,"e":175,"c":185},{"t":95.9,"e":185,"c":-185},{"t":96.2,"e":-185,"c":185},{"t":96.5,"e":185,"c":-185},{"t":96.8,"e":160,"c":185},{"t":97.1,"e":178,"c":-185},{"t":97.4,"e":155,"c":185},{"t":97.7,"e":185,"c":-185},{"t":98.0,"e":-185,"c":185},{"t":98.3,"e":185,"c":-185},{"t":98.6,"e":165,"c":185},{"t":98.9,"e":150,"c":-185},{"t":99.2,"e":172,"c":185},{"t":99.5,"e":185,"c":-185},{"t":99.8,"e":-185,"c":185},{"t":100.1,"e":185,"c":-185},{"t":100.4,"e":160,"c":185},{"t":100.7,"e":-185,"c":-185},{"t":101.1,"e":-185,"c":-185},{"t":101.7,"e":-76,"c":-80},{"t":102,"e":-122,"c":-116},{"t":102.5,"e":-74,"c":-80},{"t":103,"e":-124,"c":-113},{"t":103.5,"e":-72,"c":-78},{"t":104,"e":-121,"c":-118},{"t":104.5,"e":-76,"c":-82},{"t":105,"e":-123,"c":-115},{"t":105.5,"e":-73,"c":-79},{"t":106,"e":-122,"c":-117},{"t":106.5,"e":-75,"c":-77},{"t":107,"e":-124,"c":-114},{"t":107.5,"e":-71,"c":-81},{"t":108,"e":-121,"c":-116},{"t":108.5,"e":-74,"c":-78},{"t":109,"e":-123,"c":-118},{"t":109.5,"e":-77,"c":-80},{"t":110,"e":-122,"c":-113},{"t":110.5,"e":-73,"c":-79},{"t":111,"e":-124,"c":-117},{"t":111.5,"e":-75,"c":-82},{"t":112,"e":-121,"c":-115},{"t":112.5,"e":-72,"c":-78},{"t":113,"e":-123,"c":-116},{"t":113.5,"e":-76,"c":-80},{"t":114,"e":-122,"c":-118},{"t":114.5,"e":-74,"c":-77},{"t":115,"e":-124,"c":-114},{"t":115.5,"e":-73,"c":-81},{"t":116,"e":-121,"c":-117},{"t":116.5,"e":-75,"c":-79},{"t":117,"e":-123,"c":-115},{"t":117.5,"e":-72,"c":-78},{"t":118,"e":-122,"c":-118},{"t":118.5,"e":-76,"c":-80},{"t":119,"e":-124,"c":-113},{"t":119.5,"e":-74,"c":-82},{"t":120,"e":-121,"c":-116},{"t":120.5,"e":-73,"c":-79},{"t":121,"e":-123,"c":-117},{"t":121.5,"e":-75,"c":-78},{"t":122,"e":-122,"c":-115},{"t":122.5,"e":-74,"c":-80},{"t":123,"e":-124,"c":-118},{"t":123.5,"e":-72,"c":-77},{"t":124.1,"e":-30,"c":-20},{"t":124.6,"e":10,"c":16},{"t":125,"e":-30,"c":-24},{"t":125.5,"e":13,"c":17},{"t":126,"e":-31,"c":-25},{"t":126.5,"e":15,"c":16},{"t":127,"e":-29,"c":-22},{"t":127.5,"e":12,"c":17},{"t":128,"e":-32,"c":-26},{"t":128.5,"e":14,"c":16},{"t":129,"e":-30,"c":-23},{"t":129.5,"e":13,"c":15},{"t":130,"e":-28,"c":-21},{"t":130.9,"e":85,"c":98},{"t":131.5,"e":61,"c":68},{"t":132,"e":102,"c":107},{"t":132.5,"e":60,"c":66},{"t":133,"e":100,"c":104},{"t":133.5,"e":62,"c":69},{"t":134,"e":99,"c":106},{"t":134.5,"e":59,"c":65},{"t":135,"e":102,"c":101},{"t":135.5,"e":61,"c":68},{"t":136,"e":100,"c":105},{"t":136.5,"e":63,"c":70},{"t":137,"e":103,"c":102},{"t":137.5,"e":60,"c":66},{"t":138,"e":99,"c":104},{"t":138.5,"e":62,"c":69},{"t":139,"e":101,"c":100},{"t":139.5,"e":59,"c":65},{"t":140,"e":102,"c":105},{"t":140.5,"e":61,"c":67},{"t":141,"e":100,"c":103},{"t":141.5,"e":63,"c":70},{"t":142,"e":98,"c":104},{"t":142.5,"e":60,"c":66},{"t":143,"e":101,"c":101},{"t":143.5,"e":62,"c":68},{"t":144,"e":103,"c":105},{"t":144.5,"e":59,"c":64},{"t":145,"e":100,"c":102},{"t":145.5,"e":61,"c":67},{"t":146,"e":102,"c":104},{"t":146.5,"e":63,"c":69},{"t":147,"e":99,"c":100},{"t":147.5,"e":60,"c":66},{"t":148,"e":101,"c":103},{"t":148.5,"e":62,"c":68},{"t":149,"e":100,"c":102},{"t":149.5,"e":59,"c":65},{"t":150,"e":99,"c":101},{"t":150.5,"e":61,"c":67},{"t":151,"e":98,"c":100},{"t":151.5,"e":62,"c":69},{"t":152,"e":99,"c":101},{"t":152.5,"e":60,"c":66},{"t":153,"e":98,"c":99},{"t":153.5,"e":61,"c":67},{"t":154,"e":97,"c":98},{"t":154.6,"e":140,"c":150},{"t":155.0,"e":170,"c":175},{"t":155.3,"e":160,"c":-185},{"t":155.6,"e":178,"c":185},{"t":155.9,"e":155,"c":-185},{"t":156.2,"e":185,"c":185},{"t":156.5,"e":-185,"c":-185},{"t":156.8,"e":185,"c":185},{"t":157.1,"e":165,"c":-185},{"t":157.4,"e":150,"c":185},{"t":157.7,"e":172,"c":-185},{"t":158.0,"e":160,"c":185},{"t":158.3,"e":185,"c":-185},{"t":158.6,"e":-185,"c":185},{"t":158.9,"e":185,"c":-185},{"t":159.2,"e":170,"c":185},{"t":159.5,"e":155,"c":-185},{"t":159.8,"e":175,"c":185},{"t":160.1,"e":185,"c":-185},{"t":160.4,"e":-185,"c":185},{"t":160.7,"e":-185,"c":-185},{"t":161.4,"e":-185,"c":-185},{"t":161.8,"e":-76,"c":-80},{"t":162,"e":-122,"c":-116},{"t":162.5,"e":-74,"c":-80},{"t":163,"e":-124,"c":-113},{"t":163.5,"e":-72,"c":-78},{"t":164,"e":-121,"c":-118},{"t":164.5,"e":-76,"c":-82},{"t":165,"e":-123,"c":-115},{"t":165.5,"e":-73,"c":-79},{"t":166,"e":-122,"c":-117},{"t":166.5,"e":-75,"c":-77},{"t":167,"e":-124,"c":-114},{"t":167.5,"e":-71,"c":-81},{"t":168,"e":-121,"c":-116},{"t":168.5,"e":-74,"c":-78},{"t":169,"e":-123,"c":-118},{"t":169.5,"e":-77,"c":-80},{"t":170,"e":-122,"c":-113},{"t":170.5,"e":-73,"c":-79},{"t":171,"e":-124,"c":-117},{"t":171.5,"e":-75,"c":-82},{"t":172,"e":-121,"c":-115},{"t":172.5,"e":-72,"c":-78},{"t":173,"e":-123,"c":-116},{"t":173.5,"e":-76,"c":-80},{"t":174,"e":-122,"c":-118},{"t":174.5,"e":-74,"c":-77},{"t":175,"e":-124,"c":-114},{"t":175.5,"e":-73,"c":-81},{"t":176,"e":-121,"c":-117},{"t":176.5,"e":-75,"c":-79},{"t":177,"e":-123,"c":-115},{"t":177.5,"e":-72,"c":-78},{"t":178,"e":-122,"c":-118},{"t":178.5,"e":-76,"c":-80},{"t":179,"e":-124,"c":-113},{"t":179.5,"e":-74,"c":-82},{"t":180,"e":-121,"c":-116},{"t":180.5,"e":-73,"c":-79},{"t":181,"e":-123,"c":-117},{"t":181.5,"e":-75,"c":-78},{"t":182,"e":-122,"c":-115},{"t":182.5,"e":-74,"c":-80},{"t":183,"e":-124,"c":-118},{"t":183.5,"e":-72,"c":-77},{"t":184,"e":-123,"c":-116},{"t":184.6,"e":-75,"c":-80},{"t":185.4,"e":-35,"c":-25},{"t":186,"e":8,"c":13},{"t":186.5,"e":-32,"c":-26},{"t":187,"e":12,"c":14},{"t":187.5,"e":-33,"c":-24},{"t":188,"e":10,"c":13},{"t":188.5,"e":-30,"c":-22},{"t":189,"e":13,"c":12},{"t":189.5,"e":-31,"c":-25},{"t":190,"e":11,"c":14},{"t":190.5,"e":-29,"c":-23},{"t":191,"e":12,"c":11},{"t":191.5,"e":-32,"c":-24},{"t":192,"e":9,"c":12},{"t":192.5,"e":-15,"c":-8},{"t":192.8,"e":-12,"c":-12}]
},
"config": {
"font": "Liberation Sans",
"view": {"stroke": "black", "strokeWidth": 1.5},
"axis": {"labelFont": "Liberation Sans", "labelFontWeight": "bold", "labelFontSize": 16, "labelColor": "black", "titleFont": "Liberation Sans", "titleFontWeight": "bold", "titleFontSize": 20, "titleColor": "black", "domain": false, "ticks": false, "grid": true, "gridColor": "black", "gridDash": [6, 4], "gridOpacity": 0.8, "gridWidth": 1, "labelPadding": 4, "labelFlush": false, "labelOverlap": false},
"axisY": {"titlePadding": 4},
"axisX": {"titlePadding": 6},
"title": {"font": "Liberation Sans", "fontWeight": "bold", "fontSize": 19, "color": "black", "offset": 5},
"legend": {"orient": "top-left", "offset": 5, "symbolType": "stroke", "symbolSize": 1444, "symbolOffset": 13, "rowPadding": 4, "labelOffset": 21, "padding": 6, "strokeColor": "black", "fillColor": "white", "labelFont": "Liberation Sans", "labelFontSize": 15, "labelFontWeight": "bold", "labelColor": "black", "title": null}
},
"columns": 2,
"spacing": {"row": 48, "column": 24},
"bounds": "flush",
"align": "each",
"resolve": {"scale": {"color": "independent"}, "legend": {"color": "independent"}},
"concat": [
{"title": "Handheld", "width": 476, "height": 249,
 "layer": [
  {"data": {"name": "hR"}, "mark": {"type": "line", "strokeWidth": 5.5, "clip": true},
   "encoding": {"x": {"field": "t", "type": "quantitative", "title": null, "scale": {"domain": [12, 200], "nice": false, "zero": false}, "axis": {"values": [20, 40, 60, 80, 100, 120, 140, 160, 180, 200]}},
    "y": {"field": "v", "type": "quantitative", "title": "Heading (deg)", "scale": {"domain": [-100, 180], "nice": false, "zero": false}, "axis": {"values": [-100, -50, 0, 50, 100, 150]}},
    "color": {"datum": "Ref", "type": "nominal", "scale": {"domain": ["Ref", "E-PDR", "C-INS"], "range": ["#ff3d0d", "#000000", "#18c818"]}, "legend": {"title": null, "encode": {"symbols": {"update": {"strokeWidth": {"signal": "datum.value === 'Ref' ? 5 : datum.value === 'E-PDR' ? 2 : 1.3"}}}}}}}},
  {"data": {"name": "hD"}, "mark": {"type": "line", "strokeWidth": 1.6, "clip": true},
   "encoding": {"x": {"field": "t", "type": "quantitative", "title": null}, "y": {"field": "e", "type": "quantitative", "title": "Heading (deg)"}, "color": {"datum": "E-PDR", "type": "nominal"}}},
  {"data": {"name": "hD"}, "mark": {"type": "line", "strokeWidth": 1.1, "clip": true},
   "encoding": {"x": {"field": "t", "type": "quantitative", "title": null}, "y": {"field": "c", "type": "quantitative", "title": "Heading (deg)"}, "color": {"datum": "C-INS", "type": "nominal"}}}
 ]},
{"title": "Calling", "width": 460, "height": 249,
 "layer": [
  {"data": {"name": "cR"}, "mark": {"type": "line", "strokeWidth": 5.5, "clip": true},
   "encoding": {"x": {"field": "t", "type": "quantitative", "title": null, "scale": {"domain": [12, 200], "nice": false, "zero": false}, "axis": {"values": [20, 40, 60, 80, 100, 120, 140, 160, 180, 200]}},
    "y": {"field": "v", "type": "quantitative", "title": null, "scale": {"domain": [-100, 180], "nice": false, "zero": false}, "axis": {"values": [-100, -50, 0, 50, 100, 150], "labels": false}},
    "color": {"datum": "Ref", "type": "nominal", "scale": {"domain": ["Ref", "E-PDR", "C-INS"], "range": ["#ff3d0d", "#000000", "#18c818"]}, "legend": {"title": null, "encode": {"symbols": {"update": {"strokeWidth": {"signal": "datum.value === 'Ref' ? 5 : datum.value === 'E-PDR' ? 2 : 1.3"}}}}}}}},
  {"data": {"name": "cD"}, "mark": {"type": "line", "strokeWidth": 1.6, "clip": true},
   "encoding": {"x": {"field": "t", "type": "quantitative", "title": null}, "y": {"field": "e", "type": "quantitative", "title": null}, "color": {"datum": "E-PDR", "type": "nominal"}}},
  {"data": {"name": "cD"}, "mark": {"type": "line", "strokeWidth": 1.1, "clip": true},
   "encoding": {"x": {"field": "t", "type": "quantitative", "title": null}, "y": {"field": "c", "type": "quantitative", "title": null}, "color": {"datum": "C-INS", "type": "nominal"}}}
 ]},
{"title": "Swaying", "width": 476, "height": 255,
 "layer": [
  {"data": {"name": "sR"}, "mark": {"type": "line", "strokeWidth": 5.5, "clip": true},
   "encoding": {"x": {"field": "t", "type": "quantitative", "title": "Time (s)", "scale": {"domain": [0, 200], "nice": false, "zero": false}, "axis": {"values": [0, 50, 100, 150, 200]}},
    "y": {"field": "v", "type": "quantitative", "title": "Heading (deg)", "scale": {"domain": [-140, 180], "nice": false, "zero": false}, "axis": {"values": [-100, -50, 0, 50, 100, 150]}},
    "color": {"datum": "Ref", "type": "nominal", "scale": {"domain": ["Ref", "E-PDR", "C-INS"], "range": ["#ff3d0d", "#000000", "#18c818"]}, "legend": {"title": null, "encode": {"symbols": {"update": {"strokeWidth": {"signal": "datum.value === 'Ref' ? 5 : datum.value === 'E-PDR' ? 2 : 1.3"}}}}}}}},
  {"data": {"name": "sD"}, "mark": {"type": "line", "strokeWidth": 1.6, "clip": true},
   "encoding": {"x": {"field": "t", "type": "quantitative", "title": "Time (s)"}, "y": {"field": "e", "type": "quantitative", "title": "Heading (deg)"}, "color": {"datum": "E-PDR", "type": "nominal"}}},
  {"data": {"name": "sD"}, "mark": {"type": "line", "strokeWidth": 1.1, "clip": true},
   "encoding": {"x": {"field": "t", "type": "quantitative", "title": "Time (s)"}, "y": {"field": "c", "type": "quantitative", "title": "Heading (deg)"}, "color": {"datum": "C-INS", "type": "nominal"}}}
 ]},
{"title": "Pocket", "width": 460, "height": 255,
 "layer": [
  {"data": {"name": "pR"}, "mark": {"type": "line", "strokeWidth": 5.5, "clip": true},
   "encoding": {"x": {"field": "t", "type": "quantitative", "title": "Time (s)", "scale": {"domain": [12, 200], "nice": false, "zero": false}, "axis": {"values": [20, 40, 60, 80, 100, 120, 140, 160, 180, 200]}},
    "y": {"field": "v", "type": "quantitative", "title": null, "scale": {"domain": [-120, 180], "nice": false, "zero": false}, "axis": {"values": [-100, -50, 0, 50, 100, 150], "labels": false}},
    "color": {"datum": "Ref", "type": "nominal", "scale": {"domain": ["Ref", "E-PDR", "C-INS"], "range": ["#ff3d0d", "#000000", "#18c818"]}, "legend": {"title": null, "encode": {"symbols": {"update": {"strokeWidth": {"signal": "datum.value === 'Ref' ? 5 : datum.value === 'E-PDR' ? 2 : 1.3"}}}}}}}},
  {"data": {"name": "pD"}, "mark": {"type": "line", "strokeWidth": 2, "clip": true},
   "encoding": {"x": {"field": "t", "type": "quantitative", "title": "Time (s)"}, "y": {"field": "e", "type": "quantitative", "title": null}, "color": {"datum": "E-PDR", "type": "nominal"}}},
  {"data": {"name": "pD"}, "mark": {"type": "line", "strokeWidth": 1.6, "clip": true},
   "encoding": {"x": {"field": "t", "type": "quantitative", "title": "Time (s)"}, "y": {"field": "c", "type": "quantitative", "title": null}, "color": {"datum": "C-INS", "type": "nominal"}}}
 ]}
]
}
